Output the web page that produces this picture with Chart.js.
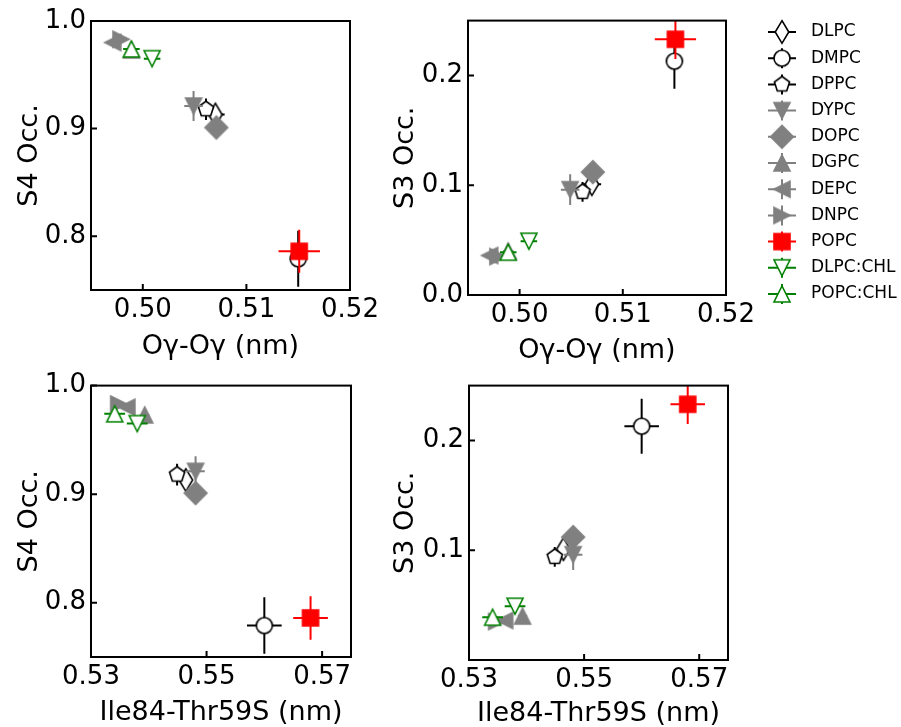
<!DOCTYPE html>
<html>
<head>
<meta charset="utf-8">
<script src="https://cdn.jsdelivr.net/npm/chart.js@4.4.1/dist/chart.umd.min.js"></script>
<style>
  body { margin: 0; background: #fff; }
  #wrap { position: relative; width: 901px; height: 727px; overflow: hidden; }
  canvas { position: absolute; }
</style>
</head>
<body>
<div id="wrap">
  <canvas id="s4-og"></canvas>
  <canvas id="s3-og"></canvas>
  <canvas id="s4-ile"></canvas>
  <canvas id="s3-ile"></canvas>
</div>
<script>
// data
var lipids = ['DLPC', 'DMPC', 'DPPC', 'DYPC', 'DOPC', 'DGPC', 'DEPC', 'DNPC', 'POPC', 'DLPC:CHL', 'POPC:CHL'];

// O-gamma / O-gamma distance (nm)
var ogDist = [0.5070, 0.5150, 0.5061, 0.5049, 0.5071, 0.4989, 0.4971, 0.4979, 0.5151, 0.5009, 0.4989];
var ogErr  = [0.0009, 0.0008, 0.0004, 0.0009, 0.0005, 0.0005, 0.0005, 0.0005, 0.0020, 0.0008, 0.0008];

// Ile84 - Thr59 sidechain distance (nm)
var ileThr    = [0.5464, 0.5600, 0.5449, 0.5481, 0.5481, 0.5393, 0.5362, 0.5348, 0.5680, 0.5380, 0.5341];
var ileThrErr = [0.0006, 0.0030, 0.0004, 0.0016, 0.0005, 0.0008, 0.0006, 0.0006, 0.0030, 0.0018, 0.0018];

// site occupancies
var s4Occ = [0.913, 0.779, 0.918, 0.921, 0.901, 0.973, 0.980, 0.983, 0.786, 0.965, 0.974];
var s4Err = [0.004, 0.026, 0.010, 0.014, 0.003, 0.004, 0.003, 0.003, 0.020, 0.004, 0.003];
var s3Occ = [0.101, 0.213, 0.094, 0.096, 0.112, 0.040, 0.036, 0.035, 0.233, 0.049, 0.039];
var s3Err = [0.003, 0.025, 0.009, 0.014, 0.003, 0.004, 0.003, 0.003, 0.018, 0.007, 0.003];

// tick labels
var ogTicks = [0.50, 0.51, 0.52];
var ileTicks = [0.53, 0.55, 0.57];
var s4Ticks = [0.8, 0.9, 1.0];
var s3Ticks = [0.0, 0.1, 0.2];
var s3TicksLower = [0.1, 0.2];

// styles
var shapes = ['d', 'o', 'p', 'v', 'D', '^', '<', '>', 's', 'v', '^'];
var black = '#000000', grey = '#808080', red = '#ff0000', green = '#008000';
var edgeColors = [black, black, black, grey, grey, grey, grey, grey, red, green, green];
var fillColors = ['#ffffff', '#ffffff', '#ffffff', grey, grey, grey, grey, grey, red, '#ffffff', '#ffffff'];
var MS = 16;

Chart.defaults.font.family = 'DejaVu Sans';
Chart.defaults.color = '#000';

// matplotlib-like marker drawn once into a small canvas, used as pointStyle
function markerCanvas(shape, fill, edge) {
  var c = document.createElement('canvas');
  c.width = 30; c.height = 30;
  var g = c.getContext('2d');
  var h = MS / 2, d = h * Math.SQRT2;
  g.translate(15, 15);
  g.beginPath();
  if (shape === 'o') {
    g.arc(0, 0, h, 0, 2 * Math.PI);
  } else if (shape === 's') {
    g.rect(-h, -h, MS, MS);
  } else if (shape === '^') {
    g.moveTo(0, -h); g.lineTo(h, h); g.lineTo(-h, h);
  } else if (shape === 'v') {
    g.moveTo(0, h); g.lineTo(h, -h); g.lineTo(-h, -h);
  } else if (shape === '<') {
    g.moveTo(-h, 0); g.lineTo(h, -h); g.lineTo(h, h);
  } else if (shape === '>') {
    g.moveTo(h, 0); g.lineTo(-h, -h); g.lineTo(-h, h);
  } else if (shape === 'D') {
    g.moveTo(0, -d); g.lineTo(d, 0); g.lineTo(0, d); g.lineTo(-d, 0);
  } else if (shape === 'd') {
    g.moveTo(0, -d); g.lineTo(0.6 * d, 0); g.lineTo(0, d); g.lineTo(-0.6 * d, 0);
  } else if (shape === 'p') {
    for (var k = 0; k < 5; k++) {
      var a = -Math.PI / 2 + k * 2 * Math.PI / 5;
      if (k === 0) g.moveTo(h * Math.cos(a), h * Math.sin(a));
      else g.lineTo(h * Math.cos(a), h * Math.sin(a));
    }
  }
  g.closePath();
  g.fillStyle = fill;
  g.fill();
  g.lineWidth = 1.6;
  g.lineJoin = 'miter';
  g.strokeStyle = edge;
  g.stroke();
  return c;
}

var markers = shapes.map(function (s, i) { return markerCanvas(s, fillColors[i], edgeColors[i]); });

// error bars go under each dataset's own marker
var errorBars = {
  id: 'errorBars',
  beforeDatasetDraw: function (chart, args, opts) {
    var i = args.index;
    var ctx = chart.ctx, xs = chart.scales.x, ys = chart.scales.y, a = chart.chartArea;
    var p = chart.data.datasets[i].data[0];
    var ex = opts.xErr[i], ey = opts.yErr[i];
    ctx.save();
    ctx.beginPath();
    ctx.rect(a.left, a.top, a.right - a.left, a.bottom - a.top);
    ctx.clip();
    ctx.strokeStyle = edgeColors[i];
    ctx.lineWidth = 2;
    ctx.beginPath();
    ctx.moveTo(xs.getPixelForValue(p.x - ex), ys.getPixelForValue(p.y));
    ctx.lineTo(xs.getPixelForValue(p.x + ex), ys.getPixelForValue(p.y));
    ctx.moveTo(xs.getPixelForValue(p.x), ys.getPixelForValue(p.y - ey));
    ctx.lineTo(xs.getPixelForValue(p.x), ys.getPixelForValue(p.y + ey));
    ctx.stroke();
    ctx.restore();
  }
};

// box around the axes + inward ticks
var frame = {
  id: 'frame',
  afterDatasetsDraw: function (chart) {
    var ctx = chart.ctx, a = chart.chartArea;
    var xs = chart.scales.x, ys = chart.scales.y;
    ctx.save();
    ctx.strokeStyle = '#000';
    ctx.lineWidth = 2;
    ctx.strokeRect(a.left, a.top, a.right - a.left, a.bottom - a.top);
    ctx.beginPath();
    xs.ticks.forEach(function (t) {
      var px = xs.getPixelForValue(t.value);
      ctx.moveTo(px, a.bottom); ctx.lineTo(px, a.bottom - 6);
    });
    ys.ticks.forEach(function (t) {
      var py = ys.getPixelForValue(t.value);
      ctx.moveTo(a.left, py); ctx.lineTo(a.left + 6, py);
    });
    ctx.stroke();
    ctx.restore();
  }
};

// legend at the right of the top-right panel
var lipidLegend = {
  id: 'lipidLegend',
  afterDraw: function (chart) {
    var ctx = chart.ctx;
    var cx = chart.chartArea.right + 56;
    ctx.save();
    ctx.font = '17px "DejaVu Sans"';
    ctx.textBaseline = 'middle';
    ctx.fillStyle = '#000';
    lipids.forEach(function (name, i) {
      var y = 32 + i * 26.2;
      ctx.strokeStyle = edgeColors[i];
      ctx.lineWidth = 2;
      ctx.beginPath();
      ctx.moveTo(cx - 14, y); ctx.lineTo(cx + 14, y);
      ctx.moveTo(cx, y - 10); ctx.lineTo(cx, y + 10);
      ctx.stroke();
      ctx.drawImage(markers[i], cx - 15, y - 15);
      ctx.fillText(name, cx + 29, y);
    });
    ctx.restore();
  }
};

function makePanel(id, p) {
  var el = document.getElementById(id);
  el.width = p.box[2]; el.height = p.box[3];
  el.style.left = p.box[0] + 'px'; el.style.top = p.box[1] + 'px';
  var datasets = lipids.map(function (name, i) {
    return {
      label: name,
      data: [{ x: p.xs[i], y: p.ys[i] }],
      pointStyle: markers[i],
      pointRadius: 8,
      pointHoverRadius: 8,
      order: lipids.length - i
    };
  });
  var plugins = [errorBars, frame];
  if (p.legend) plugins.push(lipidLegend);
  return new Chart(el, {
    type: 'scatter',
    data: { datasets: datasets },
    plugins: plugins,
    options: {
      responsive: false,
      animation: false,
      events: [],
      layout: {
        autoPadding: false,
        padding: { top: p.area[1] - p.box[1], right: p.box[0] + p.box[2] - p.area[2], left: 0, bottom: 0 }
      },
      plugins: {
        legend: { display: false },
        tooltip: { enabled: false },
        errorBars: { xErr: p.xErr, yErr: p.yErr }
      },
      scales: {
        x: {
          type: 'linear',
          min: p.xRange[0], max: p.xRange[1],
          grid: { display: false, drawTicks: false },
          border: { display: false },
          afterBuildTicks: function (s) { s.ticks = p.xTicks.map(function (v) { return { value: v }; }); },
          afterFit: function (s) { s.height = p.box[1] + p.box[3] - p.area[3]; },
          ticks: {
            autoSkip: false, maxRotation: 0, padding: 5,
            font: { size: 26 },
            callback: function (v) { return v.toFixed(2); }
          },
          title: { display: true, text: p.xTitle, font: { size: 27, lineHeight: 1.0 }, padding: { bottom: p.xTitlePad } }
        },
        y: {
          type: 'linear',
          min: p.yRange[0], max: p.yRange[1],
          grid: { display: false, drawTicks: false },
          border: { display: false },
          afterBuildTicks: function (s) { s.ticks = p.yTicks.map(function (v) { return { value: v }; }); },
          afterFit: function (s) { s.width = p.area[0] - p.box[0]; },
          ticks: {
            autoSkip: false, padding: 5,
            font: { size: 26 },
            callback: function (v) { return v.toFixed(1); }
          },
          title: { display: true, text: p.yTitle, font: { size: 27, lineHeight: 1.0 }, padding: { top: p.yTitlePad } }
        }
      }
    }
  });
}

// Panel: S4 vs O-gamma
makePanel('s4-og', {
  box: [0, 0, 450, 365], area: [91, 21, 350, 290],
  xs: ogDist, ys: s4Occ, xErr: ogErr, yErr: s4Err,
  xRange: [0.495, 0.52], yRange: [0.75, 1.0],
  xTicks: ogTicks, yTicks: s4Ticks,
  xTitle: 'Oγ-Oγ (nm)', yTitle: 'S4 Occ.', xTitlePad: 5, yTitlePad: 16
});

// Panel: S3 vs O-gamma (+ legend)
makePanel('s3-og', {
  box: [360, 0, 541, 365], area: [468, 17, 726, 295],
  xs: ogDist, ys: s3Occ, xErr: ogErr, yErr: s3Err,
  xRange: [0.495, 0.52], yRange: [0.0, 0.25],
  xTicks: ogTicks, yTicks: s3Ticks,
  xTitle: 'Oγ-Oγ (nm)', yTitle: 'S3 Occ.', xTitlePad: 1, yTitlePad: 32,
  legend: true
});

// Panel: S4 vs Ile84-Thr59
makePanel('s4-ile', {
  box: [0, 365, 450, 362], area: [91, 384, 351, 657],
  xs: ileThr, ys: s4Occ, xErr: ileThrErr, yErr: s4Err,
  xRange: [0.53, 0.575], yRange: [0.75, 1.0],
  xTicks: ileTicks, yTicks: s4Ticks,
  xTitle: 'Ile84-Thr59S (nm)', yTitle: 'S4 Occ.', xTitlePad: 1, yTitlePad: 16
});

// Panel: S3 vs Ile84-Thr59
makePanel('s3-ile', {
  box: [360, 365, 400, 362], area: [469, 379, 728, 660],
  xs: ileThr, ys: s3Occ, xErr: ileThrErr, yErr: s3Err,
  xRange: [0.53, 0.575], yRange: [0.0, 0.25],
  xTicks: ileTicks, yTicks: s3TicksLower,
  xTitle: 'Ile84-Thr59S (nm)', yTitle: 'S3 Occ.', xTitlePad: 0, yTitlePad: 32
});
</script>
</body>
</html>
